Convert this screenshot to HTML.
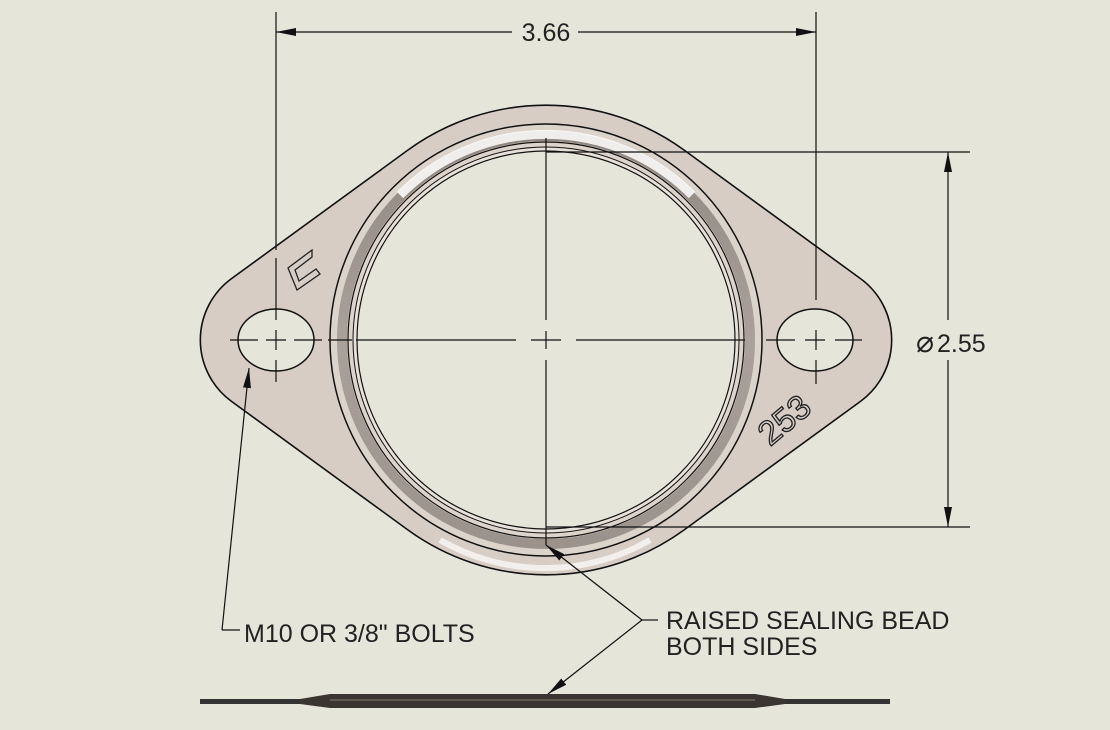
<!DOCTYPE html>
<html><head><meta charset="utf-8"><style>
html,body{margin:0;padding:0;background:#e6e5da;}
svg{display:block;}
text{font-family:"Liberation Sans",sans-serif;fill:#222;}
</style></head><body>
<svg width="1110" height="730" viewBox="0 0 1110 730" xmlns="http://www.w3.org/2000/svg">
<defs>
<marker id="ar" viewBox="0 0 20 8" refX="20" refY="4" markerWidth="20" markerHeight="8" orient="auto" markerUnits="userSpaceOnUse">
<path d="M0,0 L20,4 L0,8 Z" fill="#111"/></marker>
<linearGradient id="bead" x1="0" y1="0" x2="0" y2="1">
<stop offset="0" stop-color="#8f8780"/><stop offset="0.5" stop-color="#a9a19a"/><stop offset="1" stop-color="#9a928b"/></linearGradient>
</defs>
<rect width="1110" height="730" fill="#e6e5da"/>
<path d="M231,279 L408,150 A235,235 0 0 1 684,150 L861,279 A76,76 0 0 1 861,401 L684,530 A235,235 0 0 1 408,530 L231,401 A76,76 0 0 1 231,279 Z" fill="#d7cdc5" stroke="#111" stroke-width="1.6"/>
<circle cx="546" cy="340" r="216" fill="#dcd3cb" stroke="#111" stroke-width="1.5"/>
<circle cx="546" cy="340" r="204" fill="none" stroke="url(#bead)" stroke-width="10"/>
<path d="M400,195 A206,206 0 0 1 692,195" fill="none" stroke="#fbfaf8" stroke-width="9" opacity="0.9"/>
<path d="M440,540 A210,210 0 0 0 650,540" fill="none" stroke="#faf8f5" stroke-width="6" opacity="0.8"/>
<circle cx="546" cy="340" r="198" fill="none" stroke="#111" stroke-width="1.2"/>
<circle cx="546" cy="340" r="193" fill="#e8e1d9" stroke="#111" stroke-width="1"/>
<circle cx="546" cy="340" r="189" fill="#e6e5da" stroke="#111" stroke-width="1.2"/>
<ellipse cx="276" cy="340" rx="38" ry="31" fill="#e6e5da" stroke="#111" stroke-width="1.5"/>
<ellipse cx="815" cy="340" rx="38" ry="31" fill="#e6e5da" stroke="#111" stroke-width="1.5"/>
<path d="M312,250 L288,268 L297,290 L320,274 L316,269 L299,281 L295,270 L312,257 Z" fill="none" stroke="#222" stroke-width="1.3"/>
<text x="0" y="0" font-size="34" transform="translate(770,447) rotate(-40)" style="fill:none;stroke:#222;stroke-width:1.3">253</text>
<g stroke="#111" stroke-width="1.2" fill="none">
<line x1="546" y1="138" x2="546" y2="320"/>
<line x1="546" y1="331" x2="546" y2="349"/>
<line x1="546" y1="360" x2="546" y2="545"/>
<line x1="356" y1="340" x2="516" y2="340"/><line x1="531" y1="340" x2="561" y2="340"/><line x1="576" y1="340" x2="745" y2="340"/>
<line x1="230" y1="340" x2="258" y2="340"/><line x1="266" y1="340" x2="286" y2="340"/><line x1="294" y1="340" x2="322" y2="340"/><line x1="328" y1="340" x2="352" y2="340"/>
<line x1="766" y1="340" x2="795" y2="340"/><line x1="805" y1="340" x2="825" y2="340"/><line x1="835" y1="340" x2="862" y2="340"/>
<line x1="276" y1="12" x2="276" y2="250"/><line x1="276" y1="258" x2="276" y2="320"/><line x1="276" y1="330" x2="276" y2="350"/><line x1="276" y1="360" x2="276" y2="382"/>
<line x1="816" y1="12" x2="816" y2="300"/><line x1="816" y1="330" x2="816" y2="350"/><line x1="816" y1="360" x2="816" y2="384"/>
<line x1="512" y1="32" x2="276" y2="32" marker-end="url(#ar)"/>
<line x1="578" y1="32" x2="816" y2="32" marker-end="url(#ar)"/>
<line x1="546" y1="152" x2="970" y2="152"/>
<line x1="546" y1="527" x2="970" y2="527"/>
<line x1="948" y1="320" x2="948" y2="152" marker-end="url(#ar)"/>
<line x1="948" y1="360" x2="948" y2="527" marker-end="url(#ar)"/>
<line x1="222" y1="630" x2="249" y2="368" marker-end="url(#ar)"/>
<line x1="222" y1="630" x2="240" y2="630"/>
<line x1="642" y1="620" x2="658" y2="620"/>
<line x1="642" y1="620" x2="546" y2="545" marker-end="url(#ar)"/>
<line x1="642" y1="620" x2="548" y2="694" marker-end="url(#ar)"/>
</g>
<text x="546" y="41" font-size="25" text-anchor="middle">3.66</text>
<text x="916" y="352" font-size="30">⌀</text><text x="937" y="352" font-size="25">2.55</text>
<text x="244" y="642" font-size="25">M10 OR 3/8" BOLTS</text>
<text x="666" y="629" font-size="25">RAISED SEALING BEAD</text>
<text x="666" y="655" font-size="25">BOTH SIDES</text>
<rect x="200" y="699" width="690" height="5" fill="#333"/>
<path d="M300,699 L330,694 L755,694 L785,699 L785,704 L755,708 L330,708 L300,704 Z" fill="#3a3530"/>
<line x1="330" y1="700" x2="755" y2="700" stroke="#8a7d72" stroke-width="1"/>
</svg>
</body></html>
